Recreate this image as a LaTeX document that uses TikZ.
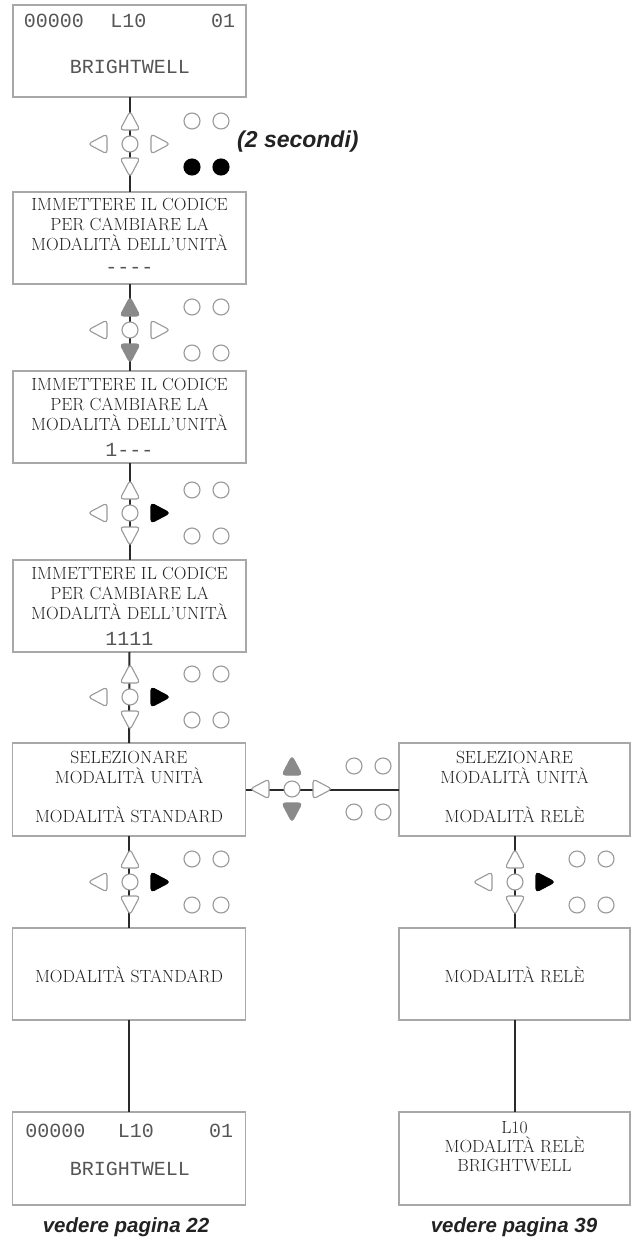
\documentclass[tikz,border=0pt]{standalone}
\usepackage{fontspec}
\newfontfamily\monof{Liberation Mono}
\newfontfamily\labf{Liberation Sans}
\definecolor{boxgray}{HTML}{A8A8A8}
\definecolor{linegray}{HTML}{2A2A2A}
\definecolor{keygray}{HTML}{999999}
\definecolor{fillgray}{HTML}{8A8A8A}
\definecolor{monogray}{HTML}{555555}
\definecolor{textdark}{HTML}{222222}
\newcommand\kpad[6]{%
  \begin{scope}[shift={#1}]
    \path[kp,#2] (-10,-14) -- (0,-33) -- (10,-14) -- cycle;
    \path[kp,#3] (-10,14) -- (0,33) -- (10,14) -- cycle;
    \path[kp,#4] (-23,-10) -- (-42,0) -- (-23,10) -- cycle;
    \path[kp,#5] (21,-10) -- (40,0) -- (21,10) -- cycle;
    \path[kp] (0,0) circle (8pt);
    \path[kp] (62,-23) circle (8pt);
    \path[kp] (91,-23) circle (8pt);
    \path[kp,#6] (62,23) circle (8pt);
    \path[kp,#6] (91,23) circle (8pt);
  \end{scope}}
\begin{document}
\begin{tikzpicture}[x=1pt,y=-1pt,
  box/.style={draw=boxgray, line width=1.2pt, minimum width=233pt, minimum height=92pt, inner sep=0pt, outer sep=0pt},
  boxr/.style={box, minimum width=231pt},
  conn/.style={draw=linegray, line width=2pt},
  ser/.style={font=\fontsize{17.6}{20}\selectfont, anchor=base, inner sep=0pt, text=textdark},
  mono/.style={font=\monof\fontsize{20}{22}\selectfont, anchor=base, inner sep=0pt, text=monogray},
  lab/.style={font=\labf\bfseries\itshape\fontsize{20.5}{22}\selectfont, anchor=base, inner sep=0pt, text=textdark},
  kp/.style={draw=keygray, line width=1.1pt, fill=white, rounded corners=3.5pt},
  kpg/.style={fill=fillgray, draw=fillgray},
  kpb/.style={fill=black, draw=black},
]
\useasboundingbox (0,0) rectangle (632,1238);
% boxes
\node[box] (b1) at (129.5,51) {};
\node[box] (b2) at (129.5,238) {};
\node[box] (b3) at (129.5,417) {};
\node[box] (b4) at (129.5,606) {};
\node[box, minimum height=93pt] (b5L) at (129,789.5) {};
\node[boxr, minimum height=93pt] (b5R) at (514.5,789.5) {};
\node[box] (b6L) at (129,974) {};
\node[boxr] (b6R) at (514.5,974) {};
\node[box, minimum height=93pt] (b7L) at (129,1158.5) {};
\node[boxr, minimum height=93pt] (b7R) at (514.5,1158.5) {};
% texts
\node[mono] (t1a) at (54,28) {00000};
\node[mono] (t1b) at (128.5,28) {L10};
\node[mono] (t1c) at (223,28) {01};
\node[mono] (t1d) at (130,74) {BRIGHTWELL};
\node[ser] (t2a) at (129.5,211) {IMMETTERE IL CODICE};
\node[ser] (t2b) at (129.5,231) {PER CAMBIARE LA};
\node[ser] (t2c) at (129.5,251) {MODALITÀ DELL’UNITÀ};
\node[mono] (t2d) at (129.5,274) {----};
\node[ser] (t3a) at (129.5,390) {IMMETTERE IL CODICE};
\node[ser] (t3b) at (129.5,410) {PER CAMBIARE LA};
\node[ser] (t3c) at (129.5,430) {MODALITÀ DELL’UNITÀ};
\node[mono] (t3d) at (129.5,456) {1---};
\node[ser] (t4a) at (129.5,579) {IMMETTERE IL CODICE};
\node[ser] (t4b) at (129.5,599) {PER CAMBIARE LA};
\node[ser] (t4c) at (129.5,619) {MODALITÀ DELL’UNITÀ};
\node[mono] (t4d) at (129.5,645) {1111};
\node[ser] (t5a) at (129,763) {SELEZIONARE};
\node[ser] (t5b) at (129,783) {MODALITÀ UNITÀ};
\node[ser] (t5c) at (129,822) {MODALITÀ STANDARD};
\node[ser] (t5d) at (514.5,763) {SELEZIONARE};
\node[ser] (t5e) at (514.5,783) {MODALITÀ UNITÀ};
\node[ser] (t5f) at (514.5,822) {MODALITÀ RELÈ};
\node[ser] (t6a) at (129,982) {MODALITÀ STANDARD};
\node[ser] (t6b) at (514.5,982) {MODALITÀ RELÈ};
\node[mono] (t7a) at (55.5,1137) {00000};
\node[mono] (t7b) at (136,1137) {L10};
\node[mono] (t7c) at (221,1137) {01};
\node[mono] (t7d) at (130,1175) {BRIGHTWELL};
\node[ser] (t7e) at (514.5,1133) {L10};
\node[ser] (t7f) at (514.5,1152) {MODALITÀ RELÈ};
\node[ser] (t7g) at (514.5,1171) {BRIGHTWELL};
\node[lab, font=\labf\bfseries\itshape\fontsize{23}{25}\selectfont, anchor=base west] (l0) at (237,148) {(2 secondi)};
\node[lab] (l1) at (126,1232) {vedere pagina 22};
\node[lab] (l2) at (514,1232) {vedere pagina 39};
% connectors
\draw[conn] (b1.south) -- (b2.north);
\draw[conn] (b2.south) -- (b3.north);
\draw[conn] (b3.south) -- (b4.north);
\draw[conn] (b4.south) -- (b5L.north);
\draw[conn] (b5L.east) -- (b5R.west);
\draw[conn] (b5L.south) -- (b6L.north);
\draw[conn] (b5R.south) -- (b6R.north);
\draw[conn] (b6L.south) -- (b7L.north);
\draw[conn] (b6R.south) -- (b7R.north);
% keypads
\kpad{(130,144)}{}{}{}{}{kpb}
\kpad{(130,330)}{kpg}{kpg}{}{}{}
\kpad{(130,513)}{}{}{}{kpb}{}
\kpad{(130,697)}{}{}{}{kpb}{}
\kpad{(292,789)}{kpg}{kpg}{}{}{}
\kpad{(130,882)}{}{}{}{kpb}{}
\kpad{(515,882)}{}{}{}{kpb}{}
\end{tikzpicture}
\end{document}
